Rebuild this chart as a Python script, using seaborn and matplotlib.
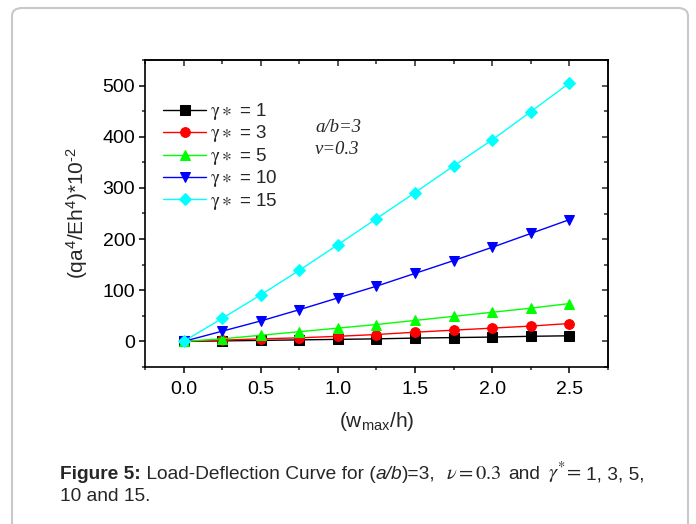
import matplotlib
matplotlib.use("Agg")
import matplotlib.pyplot as plt
from matplotlib.patches import FancyBboxPatch
from matplotlib.ticker import MultipleLocator
import seaborn as sns
import pandas as pd

# ---- data ----
x_vals = [0.0, 0.25, 0.5, 0.75, 1.0, 1.25, 1.5, 1.75, 2.0, 2.25, 2.5]
g1 = [0, 1, 2, 3, 4, 5, 6.5, 7.5, 8.5, 10, 11]
g3 = [0, 2.5, 5, 7, 10, 13.5, 18, 22, 26, 30, 35]
g5 = [0, 5, 12, 19, 26, 33, 41, 49, 57, 65, 74]
g10 = [0, 20, 40, 62, 85, 108, 133, 158, 184, 211, 238]
g15 = [0, 45, 91, 139, 189, 240, 291, 343, 394, 449, 505]
series_names = ["1", "3", "5", "10", "15"]
series_vals = [g1, g3, g5, g10, g15]
colors = ["#000000", "#ff0000", "#00ff00", "#0000ff", "#00ffff"]
markers = ["s", "o", "^", "v", "D"]
msizes = [6.5, 7, 7.5, 7.5, 6.5]

sns.set_style("ticks")
SANS = "Liberation Sans"
plt.rcParams["font.family"] = [SANS, "DejaVu Sans"]
plt.rcParams["mathtext.fontset"] = "custom"
plt.rcParams["mathtext.rm"] = SANS
plt.rcParams["mathtext.it"] = SANS + ":italic"
plt.rcParams["mathtext.bf"] = SANS + ":bold"

W, H = 696, 524
fig = plt.figure(figsize=(W / 100, H / 100), dpi=100)
fig.patch.set_facecolor("white")

# outer rounded border
box = FancyBboxPatch((12 / W, -20 / H), (688 - 12) / W, (524 - 8 + 20) / H,
                     boxstyle="round,pad=0,rounding_size=0.015",
                     transform=fig.transFigure, facecolor="none",
                     edgecolor="#c8c8c8", linewidth=1.5, clip_on=False)
fig.patches.append(box)

L, R, T, B = 145, 608, 60, 367
ax = fig.add_axes([L / W, (H - B) / H, (R - L) / W, (B - T) / H])

rows = []
for name, vals in zip(series_names, series_vals):
    for xv, yv in zip(x_vals, vals):
        rows.append({"x": xv, "y": yv, "g": name})
df = pd.DataFrame(rows)

for name, c, m, ms in zip(series_names, colors, markers, msizes):
    sub = df[df["g"] == name]
    sns.lineplot(data=sub, x="x", y="y", ax=ax, color=c, marker=m, markersize=ms,
                 markeredgecolor=c, linewidth=1.0,
                 label=r"$\mathrm{\gamma}\ast$ = " + name)

ax.set_xlim(-0.25, 2.75)
ax.set_ylim(-50, 550)
ax.xaxis.set_minor_locator(MultipleLocator(0.25))
ax.yaxis.set_minor_locator(MultipleLocator(50))
ax.set_xticks([0, 0.5, 1.0, 1.5, 2.0, 2.5])
ax.set_xticklabels(["0.0", "0.5", "1.0", "1.5", "2.0", "2.5"])
ax.set_yticks([0, 100, 200, 300, 400, 500])
ax.set_yticklabels(["0", "100", "200", "300", "400", "500"])
ax.tick_params(which="major", direction="out", length=4, width=1.1, labelsize=14,
               colors="black")
ax.tick_params(which="minor", direction="out", length=2.5, width=1.1)
ax.tick_params(axis="x", which="major", pad=6)
ax.tick_params(axis="y", which="major", pad=3)

for s in ax.spines.values():
    s.set_linewidth(1.2)
    s.set_color("black")

# inward ticks top/right
top = ax.secondary_xaxis("top")
top.xaxis.set_major_locator(MultipleLocator(0.5))
top.xaxis.set_minor_locator(MultipleLocator(0.25))
top.tick_params(which="major", direction="in", length=4.5, width=1.1, labeltop=False)
top.tick_params(which="minor", direction="in", length=3, width=1.1)
top.spines["top"].set_linewidth(1.2)
right = ax.secondary_yaxis("right")
right.yaxis.set_major_locator(MultipleLocator(100))
right.yaxis.set_minor_locator(MultipleLocator(50))
right.tick_params(which="major", direction="in", length=4.5, width=1.1, labelright=False)
right.tick_params(which="minor", direction="in", length=3, width=1.1)
right.spines["right"].set_linewidth(1.2)

ax.set_xlabel(r"(w$_{\mathregular{max}}$/h)", fontsize=15, labelpad=9)
ax.set_ylabel(r"(qa$^{\mathregular{4}}$/Eh$^{\mathregular{4}}$)*10$^{\mathregular{\text{-}2}}$",
              fontsize=15, labelpad=9)

leg = ax.legend(loc="upper left", bbox_to_anchor=((163 - L) / (R - L), (B - 101) / (B - T)),
                frameon=False, fontsize=13, borderpad=0, borderaxespad=0,
                handlelength=2.4, handletextpad=0.2, labelspacing=0.08)
for t in leg.get_texts():
    t.set_math_fontfamily("stix")
    t.set_fontsize(13.5)

ax.text((315 - L) / (R - L), (B - 127) / (B - T), "a/b=3", transform=ax.transAxes,
        fontsize=13.5, family="Liberation Serif", style="italic", va="center", ha="left")
ax.text((315 - L) / (R - L), (B - 149) / (B - T), "v=0.3", transform=ax.transAxes,
        fontsize=13.5, family="Liberation Serif", style="italic", va="center", ha="left")

# caption drawn in pieces, laid out left to right and fitted to span 60..642 px
fig.canvas.draw()
renderer = fig.canvas.get_renderer()
y1, y2 = 479, 501
X0, X1 = 60, 642

# (text, kwargs, math?, gap after in px)
pieces = [("Figure 5:", dict(weight="bold"), False, 0),
          (" Load-Deflection Curve for (", {}, False, 0),
          ("a/b", dict(style="italic"), False, 0),
          (")=3,", {}, False, 10),
          (r"$\nu = \mathrm{0.3}$", dict(math_fontfamily="stix"), True, 7),
          ("and", {}, False, 8),
          (r"$\gamma^{*}\!=$", dict(math_fontfamily="stix"), True, 4),
          ("1, 3, 5,", {}, False, 0)]


def layout(size):
    x = X0
    made = []
    for s, kw, is_math, gap in pieces:
        fs = size + 1 if is_math else size
        t = fig.text(x / W, 1 - y1 / H, s, va="baseline", ha="left", fontsize=fs, **kw)
        made.append(t)
        x += t.get_window_extent(renderer=renderer).width + gap
    return x, made


size = 12.5
for attempt in range(4):
    xend, made = layout(size)
    if abs(xend - X1) < 2 or attempt == 3:
        break
    for t in made:
        t.remove()
    size = size * (X1 - X0 - 29) / (xend - X0 - 29)

fig.text(X0 / W, 1 - y2 / H, "10 and 15.", va="baseline", ha="left", fontsize=size)

fig.savefig("out.png", dpi=100)
